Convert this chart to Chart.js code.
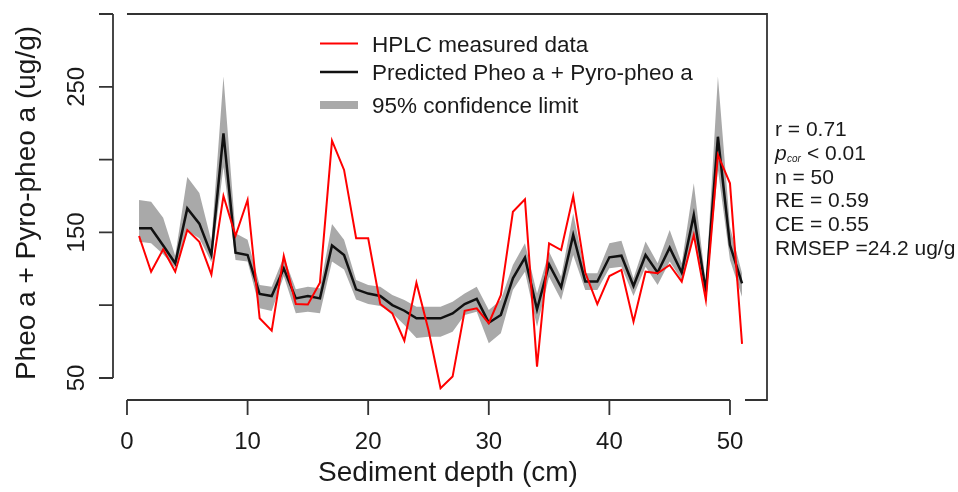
<!DOCTYPE html>
<html>
<head>
<meta charset="utf-8">
<script src="https://cdn.jsdelivr.net/npm/chart.js@4.4.0/dist/chart.umd.min.js"></script>
<style>
  body { margin: 0; background: #fff; }
  canvas { display: block; }
</style>
</head>
<body>
<canvas id="grafico" width="958" height="492"></canvas>
<script>
// sediment depth (cm)
const depth = [1, 2, 3, 4, 5, 6, 7, 8, 9, 10, 11, 12, 13, 14, 15, 16, 17, 18, 19, 20,
  21, 22, 23, 24, 25, 26, 27, 28, 29, 30, 31, 32, 33, 34, 35, 36, 37, 38, 39, 40,
  41, 42, 43, 44, 45, 46, 47, 48, 49, 50, 51];

// HPLC measured data
const measured = [147.5, 123, 138.4, 123, 151.6, 143.5, 121, 175, 147.7, 172.3,
  91, 82.5, 133.8, 100.8, 100.5, 115.5, 213, 192.9, 146, 146,
  100.8, 94.4, 75.6, 115.5, 83, 43, 51, 96.2, 97.9, 87.6,
  107, 164.2, 172.7, 57.8, 142.5, 137.9, 175, 122.4, 100.8, 120,
  124.2, 88.7, 123, 121.9, 127.6, 116.2, 148.2, 103.6, 203.2, 183.7, 73.4];

// predicted Pheo a + Pyro-pheo a
const predicted = [152.8, 152.8, 141, 128.8, 166.5, 156, 134.5, 218, 136, 134.5,
  107.7, 106.3, 125.3, 104.7, 106.3, 104.7, 141, 134.5, 110.9, 108,
  106.3, 100.1, 96.2, 91, 91, 91, 94.4, 100.8, 104.3, 88,
  93.3, 118.5, 132.7, 97.2, 128, 112.3, 148.2, 116.2, 116.2, 132.9,
  134, 113.2, 134.5, 122.4, 139.5, 122.4, 162, 109.7, 215.7, 141.3, 115];

// 95% confidence limits
const upperCL = [172.3, 171, 160, 134, 188, 177, 144, 257, 149.4, 145,
  113.9, 112.7, 133.3, 110.9, 112.7, 111.6, 155.8, 145, 117.3, 113.9,
  112.7, 107, 103.6, 99, 99, 99, 102.4, 108, 112.7, 96.7,
  103.6, 127.6, 142.5, 108, 136.8, 119.6, 163.1, 121.9, 121.9, 142.5,
  144.3, 118.5, 143.8, 128.8, 151.6, 128.8, 183.7, 115, 257, 153.9, 121.9];
const lowerCL = [143.5, 142.5, 135, 125.5, 151, 146, 129.5, 195, 131, 130,
  97.9, 96, 120, 94.4, 95.5, 94.4, 130, 124.6, 104, 100.8,
  99.5, 94.4, 86.4, 77.5, 78.4, 78.4, 81.8, 93.3, 95.5, 73.8,
  80.7, 110.4, 123, 85.2, 119.6, 103.6, 134.5, 110.4, 110.4, 125.3,
  126.4, 106.3, 126.4, 113.9, 130, 117.3, 149.4, 103.6, 193, 131, 105.8];

const xTicks = [0, 10, 20, 30, 40, 50];
const yTicks = [50, 100, 150, 200, 250, 300];
const yTickLabels = ['50', '', '150', '', '250', ''];

const legendLabels = ['HPLC measured data', 'Predicted Pheo a + Pyro-pheo a', '95% confidence limit'];
const stats = ['r = 0.71', null, 'n = 50', 'RE = 0.59', 'CE = 0.55', 'RMSEP =24.2 ug/g'];

const FONT = '"Liberation Sans", Arial, sans-serif';
const RED = '#ff0000';
const BAND = '#a9a9a9';

const pts = ys => depth.map((d, i) => ({ x: d, y: ys[i] }));

const adornos = {
  id: 'adornos',
  afterDraw(chart) {
    const { ctx, chartArea: a, scales: { x, y } } = chart;
    ctx.save();

    // axes and partial frame
    ctx.strokeStyle = '#333';
    ctx.lineWidth = 1.8;
    ctx.beginPath();
    ctx.moveTo(a.left, y.getPixelForValue(yTicks[0]));
    ctx.lineTo(a.left, y.getPixelForValue(yTicks[yTicks.length - 1]));
    yTicks.forEach(v => {
      const py = y.getPixelForValue(v);
      ctx.moveTo(a.left, py);
      ctx.lineTo(a.left - 14, py);
    });
    ctx.moveTo(x.getPixelForValue(xTicks[0]), a.bottom);
    ctx.lineTo(x.getPixelForValue(xTicks[xTicks.length - 1]), a.bottom);
    xTicks.forEach(v => {
      const px = x.getPixelForValue(v);
      ctx.moveTo(px, a.bottom);
      ctx.lineTo(px, a.bottom + 15);
    });
    ctx.moveTo(x.getPixelForValue(0), a.top);
    ctx.lineTo(a.right, a.top);
    ctx.lineTo(a.right, a.bottom);
    ctx.lineTo(a.right - 22, a.bottom);
    ctx.stroke();

    ctx.fillStyle = '#1a1a1a';

    // tick labels
    ctx.font = '24px ' + FONT;
    ctx.textAlign = 'center';
    ctx.textBaseline = 'alphabetic';
    xTicks.forEach(v => ctx.fillText(String(v), x.getPixelForValue(v), 449));
    yTicks.forEach((v, i) => {
      if (!yTickLabels[i]) return;
      ctx.save();
      ctx.translate(84, y.getPixelForValue(v));
      ctx.rotate(-Math.PI / 2);
      ctx.fillText(yTickLabels[i], 0, 0);
      ctx.restore();
    });

    // axis titles
    ctx.font = '28px ' + FONT;
    ctx.fillText('Sediment depth (cm)', 448, 481);
    ctx.save();
    ctx.translate(35, 203);
    ctx.rotate(-Math.PI / 2);
    ctx.fillText('Pheo a + Pyro-pheo a (ug/g)', 0, 0);
    ctx.restore();

    // legend
    const rows = [43.5, 72, 105];
    const swatch = [
      { c: RED, w: 2 },
      { c: '#111', w: 2.5 },
      { c: BAND, w: 8 }
    ];
    ctx.textAlign = 'left';
    ctx.font = '22.5px ' + FONT;
    legendLabels.forEach((t, i) => {
      ctx.strokeStyle = swatch[i].c;
      ctx.lineWidth = swatch[i].w;
      ctx.beginPath();
      ctx.moveTo(320, rows[i]);
      ctx.lineTo(358, rows[i]);
      ctx.stroke();
      ctx.fillText(t, 372, rows[i] + 8);
    });

    // statistics
    stats.forEach((t, i) => {
      const b = 136 + i * 23.8;
      if (t) {
        ctx.font = '21px ' + FONT;
        ctx.fillText(t, 775, b);
      } else {
        ctx.font = 'italic 21px ' + FONT;
        ctx.fillText('p', 775, b);
        ctx.font = 'italic 10px ' + FONT;
        ctx.fillText('cor', 787, b + 2);
        ctx.font = '21px ' + FONT;
        ctx.fillText('< 0.01', 807, b);
      }
    });

    ctx.restore();
  }
};

new Chart(document.getElementById('grafico'), {
  type: 'line',
  data: {
    datasets: [
      { label: 'upper', data: pts(upperCL), borderWidth: 0, pointRadius: 0, fill: '+1',
        backgroundColor: BAND, borderColor: 'rgba(0,0,0,0)', order: 3 },
      { label: 'lower', data: pts(lowerCL), borderWidth: 0, pointRadius: 0, fill: false,
        borderColor: 'rgba(0,0,0,0)', order: 4 },
      { label: legendLabels[1], data: pts(predicted), borderColor: '#111', borderWidth: 2.5,
        pointRadius: 0, fill: false, order: 2 },
      { label: legendLabels[0], data: pts(measured), borderColor: RED, borderWidth: 2,
        pointRadius: 0, fill: false, order: 1 }
    ]
  },
  options: {
    responsive: false,
    animation: false,
    layout: { padding: { left: 113, right: 191, top: 14, bottom: 92 } },
    elements: { line: { tension: 0 } },
    scales: {
      x: { type: 'linear', min: -1.16, max: 53.07, display: false },
      y: { type: 'linear', min: 34.9, max: 300, display: false }
    },
    plugins: { legend: { display: false }, tooltip: { enabled: false } }
  },
  plugins: [adornos]
});
</script>
</body>
</html>
